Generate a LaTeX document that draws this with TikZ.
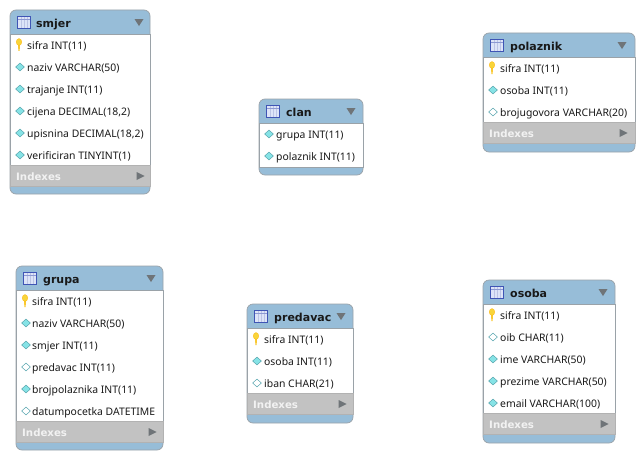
\documentclass[tikz,border=0pt]{standalone}
\usepackage{fontspec}
\setmainfont{Noto Sans}
\newfontfamily\tblfont{DejaVu Sans}
\usetikzlibrary{positioning}
\usetikzlibrary{shapes}
\definecolor{tblblue}{HTML}{97BDD8}
\definecolor{tblline}{HTML}{9AA2A8}
\definecolor{tblgray}{HTML}{C2C2C2}
\definecolor{arrowgray}{HTML}{6F7478}
\definecolor{fkfill}{HTML}{86E3E6}
\definecolor{fkline}{HTML}{5AA7B0}
\definecolor{keyfill}{HTML}{F8D53A}
\definecolor{iconfill}{HTML}{DDE4F8}
\definecolor{iconline}{HTML}{3F55B5}
\tikzset{
        % Table frame, blue part behind everything
        tbl_frame/.style={rectangle, rounded corners=6pt, draw=tblline, fill=tblblue, line width=0.7pt, inner sep=0pt},
        % White column area
        tbl_body/.style={rectangle, draw=tblline, fill=white, line width=0.5pt, inner sep=0pt, anchor=north west},
        % Grey indexes band
        tbl_index/.style={rectangle, draw=tblgray!92!black, fill=tblgray, line width=0.5pt, inner sep=0pt, anchor=north west, minimum height=21pt},
        tbl_title/.style={anchor=base west, yshift=-4.5pt, inner sep=0pt, font=\tblfont\fontsize{11}{11}\selectfont\bfseries, text=black!90},
        tbl_icon/.style={rectangle, draw=iconline, fill=iconfill, line width=0.9pt, minimum width=13pt, minimum height=12pt, inner sep=0pt,
            path picture={
                \draw[iconline!35, line width=0.7pt] ([xshift=3.5pt]path picture bounding box.south west) -- ([xshift=3.5pt]path picture bounding box.north west);
                \draw[iconline!35, line width=0.7pt] (path picture bounding box.south) -- (path picture bounding box.north);
                \draw[iconline!35, line width=0.7pt] ([xshift=-3.5pt]path picture bounding box.south east) -- ([xshift=-3.5pt]path picture bounding box.north east);
                \draw[iconline!60, line width=0.7pt] ([yshift=-2.5pt]path picture bounding box.north west) -- ([yshift=-2.5pt]path picture bounding box.north east);
            }},
        tbl_menu/.style={isosceles triangle, isosceles triangle stretches, shape border rotate=-90, fill=arrowgray, inner sep=0pt, minimum width=9pt, minimum height=7pt},
        idx_text/.style={anchor=base west, yshift=-4pt, inner sep=0pt, font=\tblfont\fontsize{10.2}{10.2}\selectfont\bfseries, text=white!95!black},
        idx_arrow/.style={isosceles triangle, isosceles triangle stretches, fill=arrowgray, inner sep=0pt, minimum width=8pt, minimum height=8pt},
        % Column icons
        col_key/.pic={
            \fill[keyfill!85!orange] (-1,0) -- (1,0) -- (0.6,6) -- (-0.6,6) -- cycle;
            \draw[orange!60!yellow, line width=0.3pt, fill=keyfill] (0,-3) ellipse (2.7pt and 3.4pt);
        },
        col_fk/.style={diamond, xshift=1pt, draw=fkline, fill=fkfill, line width=0.5pt, minimum width=9pt, minimum height=8pt, inner sep=0pt},
        col_plain/.style={diamond, xshift=1pt, draw=fkline, fill=white, line width=0.5pt, minimum width=9pt, minimum height=8pt, inner sep=0pt},
        col_text/.style={anchor=base west, yshift=-3.5pt, inner sep=0pt, font=\fontsize{10.4}{10.4}\selectfont, text=black!90}
}
\begin{document}
\begin{tikzpicture}[x=1pt, y=-1pt]
    \useasboundingbox (0,0) rectangle (644,460);

    % smjer
    \node[tbl_frame, minimum width=140pt, minimum height=184pt] (smjer) at (80,102) {};
    \node[tbl_body, minimum width=140pt, minimum height=131pt] (smjer_body) at (10,34) {};
    \node[tbl_index, minimum width=140pt] (smjer_idx) at (10,165) {};
    \node[tbl_icon] (smjer_icon) at (24,22.5) {};
    \node[tbl_title] (smjer_title) at (36,23) {smjer};
    \node[tbl_menu] (smjer_menu) at (139,21.5) {};
    \node[idx_text] (smjer_idx_text) at (16,176) {Indexes};
    \node[idx_arrow] (smjer_idx_arrow) at (139,176) {};
    \pic (smjer_c1) at (19,45) {col_key};
    \node[col_text] (smjer_t1) at (27,46) {sifra INT(11)};
    \node[col_fk] (smjer_c2) at (19,67) {};
    \node[col_text] (smjer_t2) at (27,68) {naziv VARCHAR(50)};
    \node[col_fk] (smjer_c3) at (19,89) {};
    \node[col_text] (smjer_t3) at (27,90) {trajanje INT(11)};
    \node[col_fk] (smjer_c4) at (19,111) {};
    \node[col_text] (smjer_t4) at (27,112) {cijena DECIMAL(18,2)};
    \node[col_fk] (smjer_c5) at (19,133) {};
    \node[col_text] (smjer_t5) at (27,134) {upisnina DECIMAL(18,2)};
    \node[col_fk] (smjer_c6) at (19,155) {};
    \node[col_text] (smjer_t6) at (27,156) {verificiran TINYINT(1)};

    % polaznik
    \node[tbl_frame, minimum width=152pt, minimum height=119pt] (polaznik) at (559,92.5) {};
    \node[tbl_body, minimum width=152pt, minimum height=65pt] (polaznik_body) at (483,57) {};
    \node[tbl_index, minimum width=152pt] (polaznik_idx) at (483,122) {};
    \node[tbl_icon] (polaznik_icon) at (497,45.5) {};
    \node[tbl_title] (polaznik_title) at (510,46) {polaznik};
    \node[tbl_menu] (polaznik_menu) at (622,44.5) {};
    \node[idx_text] (polaznik_idx_text) at (489,133) {Indexes};
    \node[idx_arrow] (polaznik_idx_arrow) at (622,133) {};
    \pic (polaznik_c1) at (492,68) {col_key};
    \node[col_text] (polaznik_t1) at (500,69) {sifra INT(11)};
    \node[col_fk] (polaznik_c2) at (492,90) {};
    \node[col_text] (polaznik_t2) at (500,91) {osoba INT(11)};
    \node[col_plain] (polaznik_c3) at (492,112) {};
    \node[col_text] (polaznik_t3) at (500,113) {brojugovora VARCHAR(20)};

    % clan
    \node[tbl_frame, minimum width=104pt, minimum height=76pt] (clan) at (311,137) {};
    \node[tbl_body, minimum width=104pt, minimum height=44pt] (clan_body) at (259,123) {};
    \node[tbl_icon] (clan_icon) at (273,111.5) {};
    \node[tbl_title] (clan_title) at (286,112) {clan};
    \node[tbl_menu] (clan_menu) at (351,110.5) {};
    \node[col_fk] (clan_c1) at (268,134) {};
    \node[col_text] (clan_t1) at (276,135) {grupa INT(11)};
    \node[col_fk] (clan_c2) at (268,156) {};
    \node[col_text] (clan_t2) at (276,157) {polaznik INT(11)};

    % grupa
    \node[tbl_frame, minimum width=147pt, minimum height=184pt] (grupa) at (89.5,358) {};
    \node[tbl_body, minimum width=147pt, minimum height=131pt] (grupa_body) at (16,290) {};
    \node[tbl_index, minimum width=147pt] (grupa_idx) at (16,421) {};
    \node[tbl_icon] (grupa_icon) at (30,278.5) {};
    \node[tbl_title] (grupa_title) at (43,279) {grupa};
    \node[tbl_menu] (grupa_menu) at (151,277.5) {};
    \node[idx_text] (grupa_idx_text) at (22,432) {Indexes};
    \node[idx_arrow] (grupa_idx_arrow) at (151,432) {};
    \pic (grupa_c1) at (25,301) {col_key};
    \node[col_text] (grupa_t1) at (32,302) {sifra INT(11)};
    \node[col_fk] (grupa_c2) at (25,323) {};
    \node[col_text] (grupa_t2) at (32,324) {naziv VARCHAR(50)};
    \node[col_fk] (grupa_c3) at (25,345) {};
    \node[col_text] (grupa_t3) at (32,346) {smjer INT(11)};
    \node[col_plain] (grupa_c4) at (25,367) {};
    \node[col_text] (grupa_t4) at (32,368) {predavac INT(11)};
    \node[col_fk] (grupa_c5) at (25,389) {};
    \node[col_text] (grupa_t5) at (32,390) {brojpolaznika INT(11)};
    \node[col_plain] (grupa_c6) at (25,411) {};
    \node[col_text] (grupa_t6) at (32,412) {datumpocetka DATETIME};

    % predavac
    \node[tbl_frame, minimum width=106pt, minimum height=119pt] (predavac) at (300,363.5) {};
    \node[tbl_body, minimum width=106pt, minimum height=65pt] (predavac_body) at (247,328) {};
    \node[tbl_index, minimum width=106pt] (predavac_idx) at (247,393) {};
    \node[tbl_icon] (predavac_icon) at (261,316.5) {};
    \node[tbl_title] (predavac_title) at (274,317) {predavac};
    \node[tbl_menu] (predavac_menu) at (341,315.5) {};
    \node[idx_text] (predavac_idx_text) at (253,404) {Indexes};
    \node[idx_arrow] (predavac_idx_arrow) at (341,404) {};
    \pic (predavac_c1) at (256,339) {col_key};
    \node[col_text] (predavac_t1) at (264,340) {sifra INT(11)};
    \node[col_fk] (predavac_c2) at (256,361) {};
    \node[col_text] (predavac_t2) at (264,362) {osoba INT(11)};
    \node[col_plain] (predavac_c3) at (256,383) {};
    \node[col_text] (predavac_t3) at (264,384) {iban CHAR(21)};

    % osoba
    \node[tbl_frame, minimum width=132pt, minimum height=163pt] (osoba) at (549,361.5) {};
    \node[tbl_body, minimum width=132pt, minimum height=109pt] (osoba_body) at (483,304) {};
    \node[tbl_index, minimum width=132pt] (osoba_idx) at (483,413) {};
    \node[tbl_icon] (osoba_icon) at (497,292.5) {};
    \node[tbl_title] (osoba_title) at (510,293) {osoba};
    \node[tbl_menu] (osoba_menu) at (603,291.5) {};
    \node[idx_text] (osoba_idx_text) at (489,424) {Indexes};
    \node[idx_arrow] (osoba_idx_arrow) at (603,424) {};
    \pic (osoba_c1) at (492,315) {col_key};
    \node[col_text] (osoba_t1) at (500,316) {sifra INT(11)};
    \node[col_plain] (osoba_c2) at (492,337) {};
    \node[col_text] (osoba_t2) at (500,338) {oib CHAR(11)};
    \node[col_fk] (osoba_c3) at (492,359) {};
    \node[col_text] (osoba_t3) at (500,360) {ime VARCHAR(50)};
    \node[col_fk] (osoba_c4) at (492,381) {};
    \node[col_text] (osoba_t4) at (500,382) {prezime VARCHAR(50)};
    \node[col_fk] (osoba_c5) at (492,403) {};
    \node[col_text] (osoba_t5) at (500,404) {email VARCHAR(100)};
\end{tikzpicture}
\end{document}
